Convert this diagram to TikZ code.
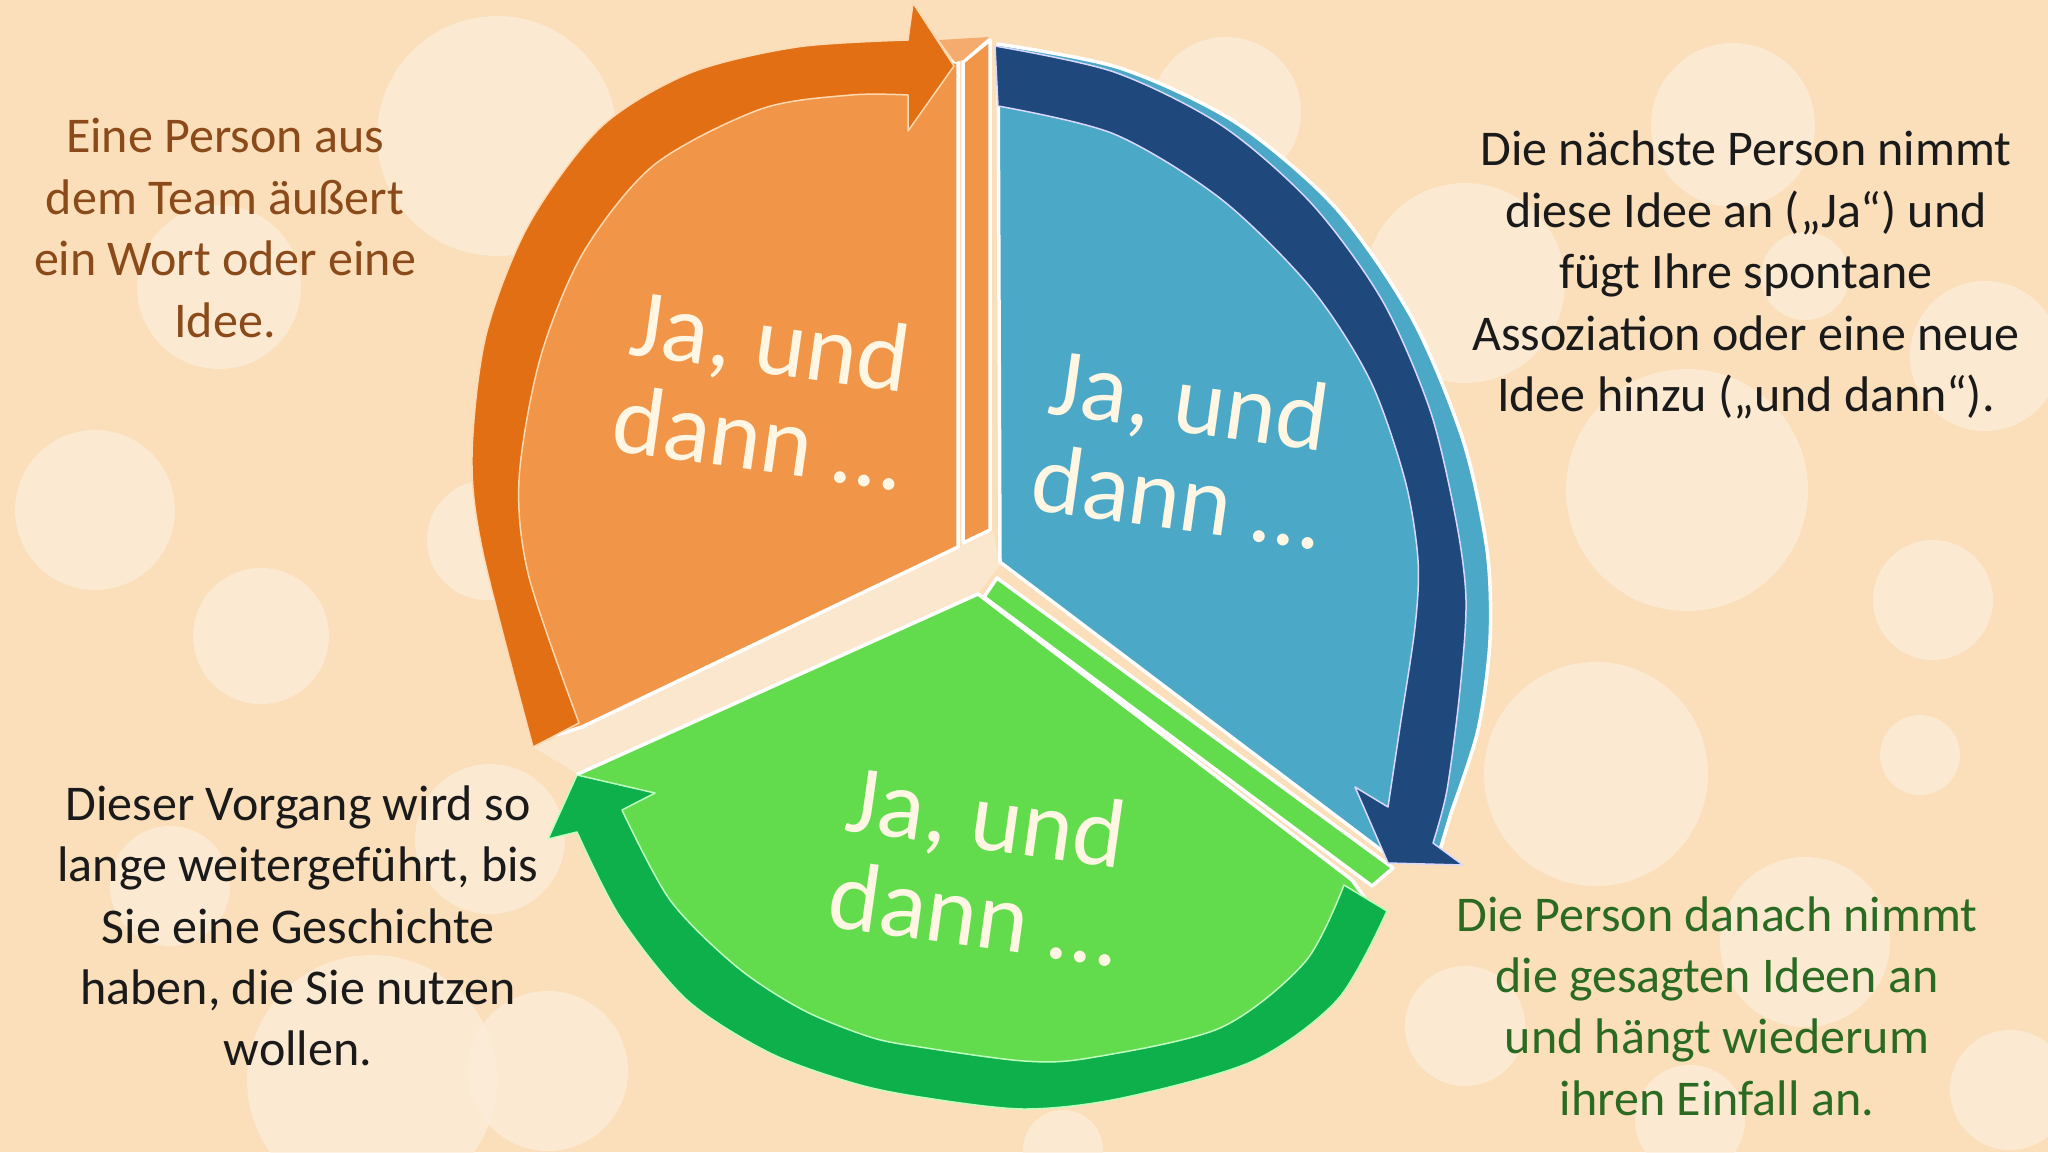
\documentclass[tikz,border=0pt]{standalone}
\usepackage{fontspec}
\setmainfont{Carlito}
\definecolor{bgc}{HTML}{FBDEBA}
\definecolor{bokeh}{HTML}{FDEDD9}
\definecolor{creamc}{HTML}{FBE7CE}
\definecolor{orface}{HTML}{F19648}
\definecolor{orarrow}{HTML}{E26F14}
\definecolor{blface}{HTML}{4BA8C6}
\definecolor{navy}{HTML}{1F487C}
\definecolor{grface}{HTML}{62DC4C}
\definecolor{grarrow}{HTML}{0EB04C}
\definecolor{txtbrown}{HTML}{8A4A1A}
\definecolor{txtgreen}{HTML}{2A6A22}
\definecolor{txtdark}{HTML}{1A1A1A}
\definecolor{jatext}{HTML}{FFF6E4}
\begin{document}
\begin{tikzpicture}[x=1pt,y=-1pt,
  bub/.style={fill=bokeh,opacity=0.75},
  face/.style={draw=white,line width=3.5pt,line join=round},
  arrowshape/.style={line width=1.5pt,line join=round},
  jalabel/.style={text=jatext,inner sep=0pt,rotate=-8,font=\fontsize{98}{92}\selectfont},
  sidetext/.style={align=center,font=\fontsize{50}{61.4}\selectfont}]
\useasboundingbox (0,0) rectangle (2048,1152);
\fill[bgc] (0,0) rectangle (2048,1152);
% bokeh circles
\foreach \cx/\cy/\r in {497/136/120, 219/287/82, 95/510/80, 261/636/68, 487/540/60,
  490/839/75, 170/886/60, 372/1080/125, 548/1071/80, 1226/112/75, 1733/125/82,
  1465/283/100, 1805/276/44, 1985/356/75, 1687/490/121, 1933/600/60, 1920/755/40,
  1596/774/112, 1805/942/85, 1465/1026/60, 2010/1090/60, 1690/1120/55, 1063/1150/40}
  {\fill[bub] (\cx,\cy) circle[radius=\r];}

% cream bottom face between orange and green
\fill[creamc] (533,747) -- (582,727) -- (958,547) -- (993,532) -- (1000,565)
  -- (990,578) -- (978,594) -- (578,774) -- cycle;

% green face
\filldraw[face,fill=grface] (978,594) -- (578,774) -- plot[smooth] coordinates {(600,821) (645,908) (712,983) (786,1031) (862,1060) (920,1072) (1024,1085) (1105,1078) (1236,1044) (1321,980) (1365,898)} -- (1352,880) -- cycle;
% green side strip
\filldraw[face,fill=grface] (997,578) -- (1393,868) -- (1372,886) -- (984,597) -- cycle;
% green arrow
\filldraw[arrowshape,draw=green!25!white,fill=grarrow] (1387,911) -- plot[smooth] coordinates {(1387,911) (1338,999) (1253,1061) (1122,1098) (1024,1109) (920,1097) (853,1083) (770,1053) (687,1000) (620,917) (577,832)} -- (548,839) -- (577,775) -- (655,793) -- (622,810) -- plot[smooth] coordinates {(622,810) (670,900) (737,967) (803,1010) (870,1037) (920,1047) (1024,1061) (1089,1058) (1220,1028) (1305,962) (1344,885)} -- cycle;

% orange face
\filldraw[face,fill=orface] (958,547) -- (958,62) -- (930,60) -- plot[smooth] coordinates {(908,67) (824,70) (725,90) (627,146) (556,238) (513,347) (495,468) (506,565) (556,735)} -- (582,727) -- cycle;
% orange side strip and top
\filldraw[face,fill=orface] (963,62) -- (990,40) -- (990,530) -- (963,543) -- cycle;
\fill[orface!80!white] (939,40) -- (989,37) -- (963,60) -- (955,62) -- cycle;
% orange arrow
\filldraw[arrowshape,draw=orange!30!white,fill=orarrow] (533,747) -- plot[smooth] coordinates {(533,747) (483,553) (472,456) (486,335) (529,224) (601,127) (690,73) (797,47) (908,40)} -- (913,3) -- (954,66) -- (908,131) -- (908,95) -- plot[smooth] coordinates {(908,95) (851,95) (761,109) (654,165) (583,253) (540,359) (519,480) (529,577) (579,723)} -- cycle;

% blue face with side band
\filldraw[face,fill=blface] (1000,562) -- (998,44) -- plot[smooth] coordinates {(998,44) (1120,68) (1235,122) (1335,207) (1412,318) (1463,440) (1487,550) (1490,640) (1478,730) (1452,810)} -- (1440,850) -- (1385,853) -- cycle;
% navy arrow
\filldraw[arrowshape,draw=blue!15!white,fill=navy] (995,46) -- plot[smooth] coordinates {(995,46) (1114,72) (1221,125) (1311,203) (1382,300) (1430,410) (1456,520) (1466,600) (1460,690) (1447,790) (1433,843)} -- (1463,865) -- (1388,863) -- (1355,787) -- (1388,807) -- plot[smooth] coordinates {(1388,807) (1400,727) (1415,627) (1418,560) (1405,480) (1370,380) (1311,288) (1221,199) (1114,134) (998,106)} -- cycle;

% sector labels (two lines each, tilted)
\node[jalabel] (jaor1) at (770,346) {Ja, und};
\node[jalabel] (jaor2) at (758,437) {dann …};
\node[jalabel] (jabl1) at (1189,405) {Ja, und};
\node[jalabel] (jabl2) at (1177,496) {dann …};
\node[jalabel] (jagr1) at (986,822) {Ja, und};
\node[jalabel] (jagr2) at (974,913) {dann …};

% side texts
\node[sidetext,text=txtbrown] (tl) at (225,228) {Eine Person aus\\dem Team äußert\\ein Wort oder eine\\Idee.};
\node[sidetext,text=txtdark] (tr) at (1746,275) {Die nächste Person nimmt\\diese Idee an („Ja“) und\\fügt Ihre spontane\\Assoziation oder eine neue\\Idee hinzu („und dann“).};
\node[sidetext,text=txtdark] (bl) at (298,926) {Dieser Vorgang wird so\\lange weitergeführt, bis\\Sie eine Geschichte\\haben, die Sie nutzen\\wollen.};
\node[sidetext,text=txtgreen] (br) at (1717,1006) {Die Person danach nimmt\\die gesagten Ideen an\\und hängt wiederum\\ihren Einfall an.};
\end{tikzpicture}
\end{document}
